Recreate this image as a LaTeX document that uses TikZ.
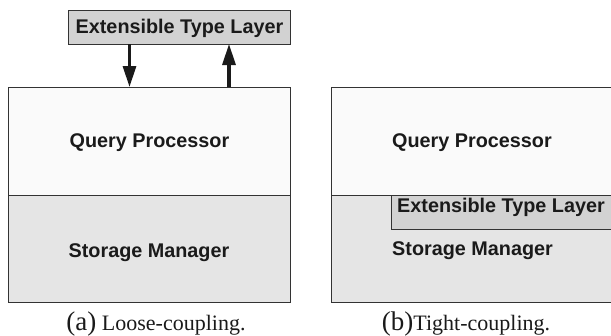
\documentclass[tikz,border=0pt]{standalone}
\usepackage{fontspec}
\setmainfont{Liberation Serif}
\newfontfamily\boxfont{Liberation Sans}
\usetikzlibrary{arrows.meta}
\definecolor{qpfill}{HTML}{FAFAFA}
\definecolor{smfill}{HTML}{E5E5E5}
\definecolor{etlfill}{HTML}{D2D2D2}
\definecolor{edge}{HTML}{333333}
\definecolor{ink}{HTML}{1A1A1A}
\tikzset{
  layer/.style={draw=edge, line width=0.9pt, inner sep=0pt, outer sep=0pt, anchor=north west},
  lbl/.style={font=\boxfont\bfseries\fontsize{19.8}{22}\selectfont, text=ink, inner sep=0pt},
  captext/.style={font=\fontsize{22}{26}\selectfont, text=ink, inner sep=0pt, anchor=base},
  arr/.style={draw=ink, line width=3.2pt, -{Triangle[width=13pt,length=21pt]}}
}
\begin{document}
\begin{tikzpicture}[x=1pt,y=-1pt]
\useasboundingbox (0,0) rectangle (611,335);
\clip (0,0) rectangle (611,335);
% (a) loose coupling
\node[layer, fill=qpfill, minimum width=282pt, minimum height=108pt] (qpA) at (8,87) {};
\node[layer, fill=smfill, minimum width=282pt, minimum height=107pt] (smA) at (8,195) {};
\node[layer, fill=etlfill, minimum width=222pt, minimum height=34pt] (etlA) at (68.5,10) {};
\node[lbl, anchor=base] (etlAt) at (179.5,33.5) {Extensible Type Layer};
\node[lbl, anchor=base] (qpAt) at (149.5,147) {Query Processor};
\node[lbl, anchor=base] (smAt) at (149,257) {Storage Manager};
\coordinate (dA1) at (129.5,44);
\coordinate (dA2) at (129.5,87);
\coordinate (uA1) at (229,87);
\coordinate (uA2) at (229,44);
\draw[arr] (dA1) -- (dA2);
\draw[arr] (uA1) -- (uA2);
\node[captext] (capA) at (156,330) {{\fontsize{27}{30}\selectfont(a)} Loose-coupling.};
% (b) tight coupling
\node[layer, fill=qpfill, minimum width=290pt, minimum height=108pt] (qpB) at (331,87) {};
\node[layer, fill=smfill, minimum width=290pt, minimum height=107pt] (smB) at (331,195) {};
\node[layer, fill=etlfill, minimum width=230pt, minimum height=34pt] (etlB) at (391,195) {};
\node[lbl, anchor=base west] (qpBt) at (392,147) {Query Processor};
\node[lbl, anchor=base west] (etlBt) at (397,212) {Extensible Type Layer};
\node[lbl, anchor=base west] (smBt) at (392,255) {Storage Manager};
\node[captext] (capB) at (466,330) {{\fontsize{27}{30}\selectfont(b)}Tight-coupling.};
\end{tikzpicture}
\end{document}
